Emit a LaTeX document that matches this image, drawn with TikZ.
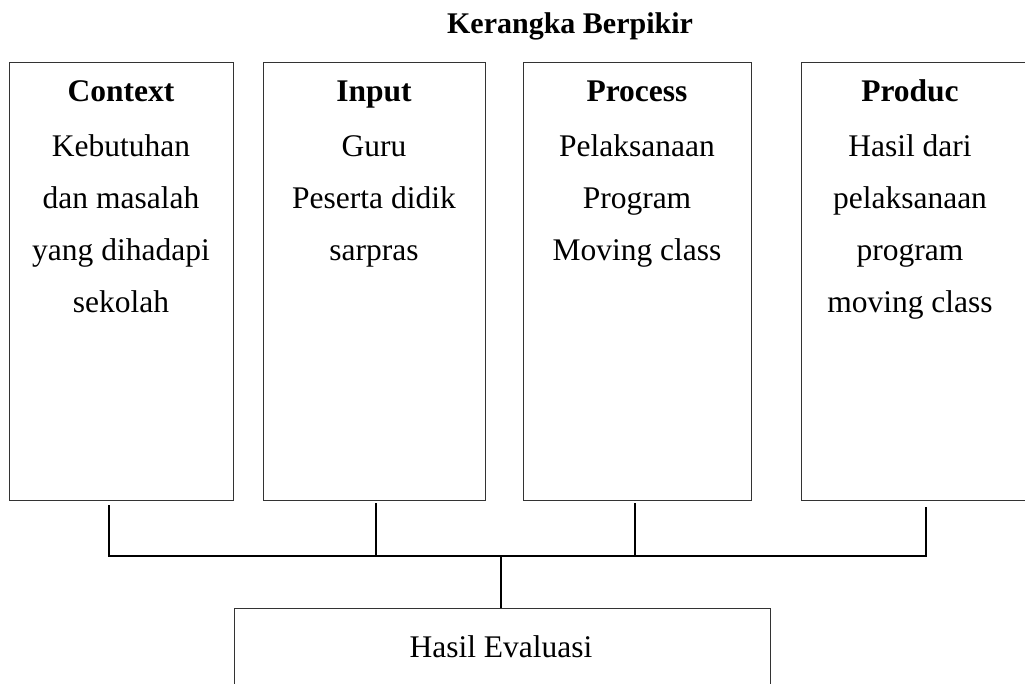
\documentclass[tikz,border=0pt]{standalone}
\usepackage{fontspec}
\setmainfont{Liberation Serif}
\begin{document}
\begin{tikzpicture}[x=1pt,y=-1pt,
  box/.style={draw=black!80, line width=1.1pt, rectangle, inner sep=0pt, anchor=north west},
  body/.style={align=center, font=\fontsize{31.5}{51.7}\selectfont, inner sep=0pt, anchor=base},
  head/.style={font=\fontsize{31.5}{38}\selectfont\bfseries, inner sep=0pt, anchor=base},
  link/.style={draw=black, line width=1.4pt}]
\useasboundingbox (0,0) rectangle (1025,684);
\clip (0,0) rectangle (1025,684);
% title
\node[font=\fontsize{30}{36}\selectfont\bfseries, inner sep=0pt, anchor=base] (title) at (570,34) {Kerangka Berpikir};
% boxes
\node[box, minimum width=224pt, minimum height=438pt] (b1) at (9,62) {};
\node[box, minimum width=222pt, minimum height=438pt] (b2) at (263,62) {};
\node[box, minimum width=228pt, minimum height=438pt] (b3) at (523,62) {};
\node[box, minimum width=240pt, minimum height=438pt] (b4) at (801,62) {};
% headings
\node[head] (h1) at (121,102) {Context};
\node[head] (h2) at (374,102) {Input};
\node[head] (h3) at (637,102) {Process};
\node[head] (h4) at (910,102) {Produc};
% body text (base anchor = baseline of the last line)
\node[body] (t1) at (121,312.1) {Kebutuhan\\dan masalah\\yang dihadapi\\sekolah};
\node[body] (t2) at (374,260.4) {Guru\\Peserta didik\\sarpras};
\node[body] (t3) at (637,260.4) {Pelaksanaan\\Program\\Moving class};
\node[body] (t4) at (910,312.1) {Hasil dari\\pelaksanaan\\program\\moving class};
% result box
\node[box, minimum width=536pt, minimum height=100pt] (res) at (234,608) {};
\node[body] (rt) at (501,657) {Hasil Evaluasi};
% connectors
\coordinate (c1) at (109,505);
\coordinate (c2) at (376,503);
\coordinate (c3) at (635,503);
\coordinate (c4) at (926,507);
\coordinate (j) at (501,556);
\draw[link] (c1) |- (j) -| (c4);
\draw[link] (c2) -- (c2 |- j);
\draw[link] (c3) -- (c3 |- j);
\draw[link] (j) -- (j |- res.north);
\end{tikzpicture}
\end{document}
